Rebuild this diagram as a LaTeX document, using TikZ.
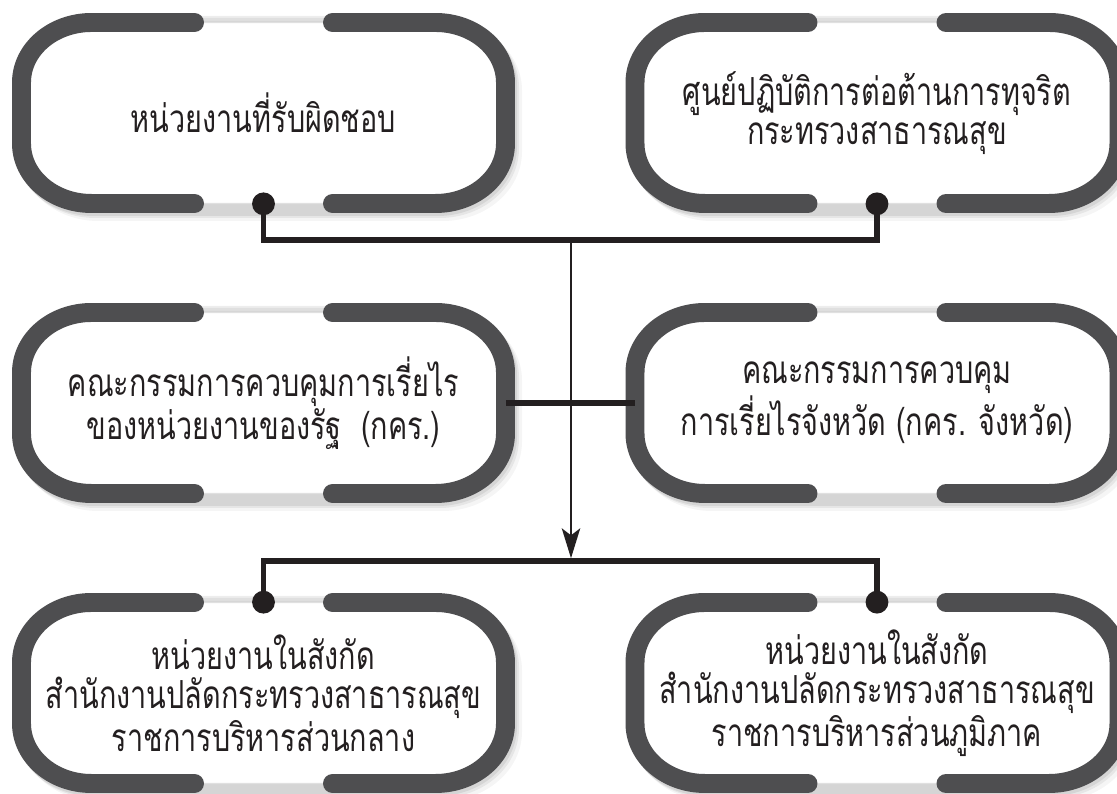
\documentclass[tikz,border=0pt]{standalone}
\usepackage{fontspec}
\newfontfamily\thaifont[Script=Thai,FakeStretch=0.745]{Loma}
\usetikzlibrary{arrows.meta,calc}
\definecolor{strokegray}{HTML}{4E4E50}
\definecolor{inkblack}{HTML}{231F20}
\tikzset{
  pillshape/.style n args={4}{insert path={
    (-#1+#3,#2) -- (#1-#3,#2)
    arc[start angle=90,end angle=0,x radius=#3,y radius=#4]
    -- (#1,-#2+#4)
    arc[start angle=0,end angle=-90,x radius=#3,y radius=#4]
    -- (-#1+#3,-#2)
    arc[start angle=270,end angle=180,x radius=#3,y radius=#4]
    -- (-#1,#2-#4)
    arc[start angle=180,end angle=90,x radius=#3,y radius=#4] -- cycle}},
  pillstroke/.style={draw=strokegray, line width=10.8pt, line cap=round},
  pilltext/.style={rectangle, inner sep=0pt, minimum width=9.68cm, minimum height=3.62cm,
    align=center, text=inkblack, font=\thaifont\fontsize{22}{22.5}\selectfont},
  conn/.style={draw=inkblack, line width=3.2pt},
  thinarrow/.style={draw=inkblack, line width=1.1pt,
    -{Stealth[length=17pt, width=10.5pt, inset=4pt]}},
  dotf/.style={fill=inkblack}
}
\newcommand\pill[2]{%
  \begin{scope}[shift={(#1,#2)}]
    \fill[black,opacity=0.04,shift={(7,-8)}] [pillshape={251.5}{100}{79.5}{69.5}];
    \fill[black,opacity=0.06,shift={(4,-5)}] [pillshape={251.5}{100}{79.5}{69.5}];
    \fill[black,opacity=0.07,shift={(2,-3)}] [pillshape={251.5}{100}{79.5}{69.5}];
    \path[fill=white, draw=black!12, line width=0.6pt] [pillshape={242}{90.5}{70}{60}];
    \draw[pillstroke] (69,90.5) -- (172,90.5)
      arc[start angle=90,end angle=0,x radius=70,y radius=60] -- (242,-30.5)
      arc[start angle=0,end angle=-90,x radius=70,y radius=60] -- (69,-90.5);
    \draw[pillstroke] (-69,90.5) -- (-172,90.5)
      arc[start angle=90,end angle=180,x radius=70,y radius=60] -- (-242,-30.5)
      arc[start angle=180,end angle=270,x radius=70,y radius=60] -- (-69,-90.5);
  \end{scope}}
\begin{document}
\begin{tikzpicture}[x=0.02cm,y=0.02cm]
\useasboundingbox (0,0) rectangle (1117,794);
\fill[white] (0,0) rectangle (1117,794);
\pill{263.5}{681}
\pill{877}{681}
\pill{263.5}{391}
\pill{877}{391}
\pill{263.5}{101}
\pill{877}{101}
\node[pilltext] (TL) at (263.5,681) {หน่วยงานที่รับผิดชอบ};
\node[pilltext] (TR) at (877,681) {ศูนย์ปฏิบัติการต่อต้านการทุจริต\\กระทรวงสาธารณสุข};
\node[pilltext] (ML) at (263.5,391) {คณะกรรมการควบคุมการเรี่ยไร\\ของหน่วยงานของรัฐ~~(กคร.)};
\node[pilltext] (MR) at (877,391) {คณะกรรมการควบคุม\\การเรี่ยไรจังหวัด (กคร. จังหวัด)};
\node[pilltext] (BL) at (263.5,101) {หน่วยงานในสังกัด\\สำนักงานปลัดกระทรวงสาธารณสุข\\ราชการบริหารส่วนกลาง};
\node[pilltext] (BR) at (877,101) {หน่วยงานในสังกัด\\สำนักงานปลัดกระทรวงสาธารณสุข\\ราชการบริหารส่วนภูมิภาค};
\coordinate (jt) at (571,554);
\coordinate (jb) at (571,233);
\draw[conn] (TL.south) |- (jt) -| (TR.south);
\draw[conn] (ML.east) -- (MR.west);
\draw[conn] (BL.north) |- (jb) -| (BR.north);
\draw[thinarrow, shorten >=1.6pt] (jt) -- (jb);
\fill[dotf] (TL.south) circle[radius=6.5pt];
\fill[dotf] (TR.south) circle[radius=6.5pt];
\fill[dotf] (BL.north) circle[radius=6.5pt];
\fill[dotf] (BR.north) circle[radius=6.5pt];
\end{tikzpicture}
\end{document}
